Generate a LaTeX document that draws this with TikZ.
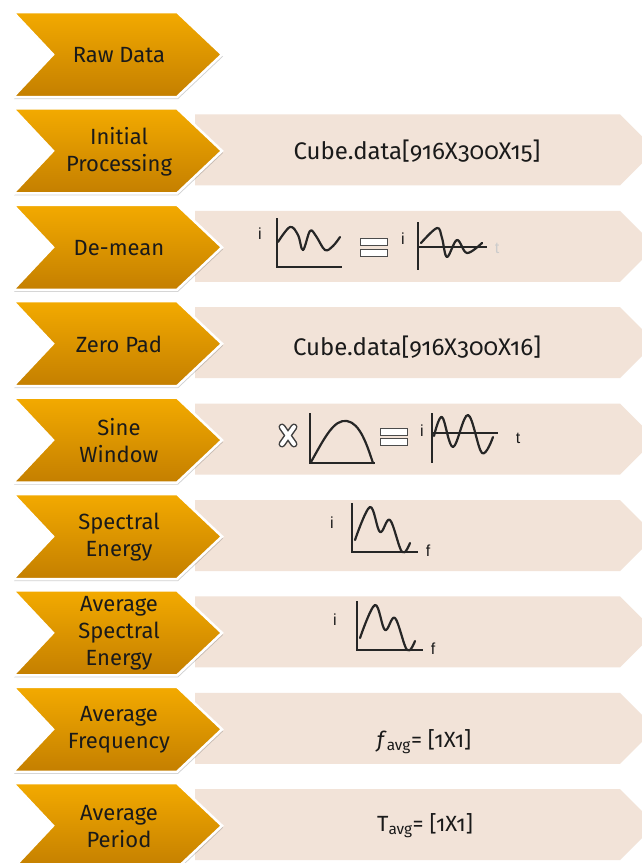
\documentclass[tikz,border=0pt]{standalone}
\usepackage{fontspec}
\setmainfont{Fira Sans}[Numbers=OldStyle]
\newfontfamily\arialf{Liberation Sans}
\definecolor{orTop}{HTML}{F3AA00}
\definecolor{orBot}{HTML}{C47F00}
\definecolor{bandc}{HTML}{F2E3D8}
\definecolor{txt}{HTML}{1A1A1A}
\tikzset{
  chev/.style={top color=orTop, bottom color=orBot, draw=white, line width=2.5pt, line join=miter},
  chevshadow/.style={fill=black, opacity=0.18},
  band/.style={fill=bandc},
  lbl/.style={font=\fontsize{22}{27}\selectfont, text=txt, align=center, inner sep=0pt},
  btxt/.style={font=\fontsize{22}{27}\selectfont, text=txt, inner sep=0pt},
  cubetxt/.style={font=\fontsize{24}{27}\selectfont, text=txt, inner sep=0pt},
  axlbl/.style={font=\arialf\fontsize{16}{18}\selectfont, text=txt, inner sep=0pt},
  curve/.style={line width=2.2pt, line cap=round, line join=round, draw=black!85},
  axis/.style={line width=2.2pt, draw=black!85},
  eqbar/.style={draw=black!70, fill=white, line width=1pt}
}
\begin{document}
\begin{tikzpicture}[x=1pt,y=-1pt]
\useasboundingbox (0,0) rectangle (642,863);
\clip (0,0) rectangle (642,863);
\fill[white] (0,0) rectangle (642,863);
% bands
\foreach \t in {108.4,204.8,301.2,397.6,494,590.4,686.8,783.2}{
  \fill[band] (195,{\t+6}) -- (620,{\t+6}) -- (655.5,{\t+41.5}) -- (620,{\t+77}) -- (195,{\t+77}) -- cycle;
}
% orange chevrons
\foreach \t in {12,108.4,204.8,301.2,397.6,494,590.4,686.8,783.2}{
  \fill[chevshadow] (14,{\t+2}) -- (178,{\t+2}) -- (223,{\t+44.5}) -- (178,{\t+87}) -- (14,{\t+87}) -- (54,{\t+44.5}) -- cycle;
  \filldraw[chev] (13,\t) -- (177,\t) -- (222,{\t+42.5}) -- (177,{\t+85}) -- (13,{\t+85}) -- (53,{\t+42.5}) -- cycle;
}
% chevron labels
\node[lbl] (l1) at (119,55) {Raw Data};
\node[lbl] (l2) at (119,151.4) {Initial\\Processing};
\node[lbl] (l3) at (119,247.8) {De-mean};
\node[lbl] (l4) at (119,344.2) {Zero Pad};
\node[lbl] (l5) at (119,440.6) {Sine\\Window};
\node[lbl] (l6) at (119,537) {Spectral\\Energy};
\node[lbl] (l7) at (119,633.4) {Average\\Spectral\\Energy};
\node[lbl] (l8) at (119,729.8) {Average\\Frequency};
\node[lbl] (l9) at (119,826.2) {Average\\Period};
% band texts
\node[cubetxt] (b2) at (417,151) {Cube.data[916X300X15]};
\node[cubetxt] (b4) at (417,347) {Cube.data[916X300X16]};
\node[btxt] (b8) at (424,742) {\textit{f}\textsubscript{avg}= [1X1]};
\node[btxt] (b9) at (425,826) {T\textsubscript{avg}= [1X1]};
% ---- De-mean row
\node[axlbl] (i3a) at (260,234) {i};
\draw[axis] (277,218) -- (277,267) -- (342,267);
\draw[curve] plot[smooth, tension=0.6] coordinates {(278,242) (290,227) (298,235) (303,250) (310,231) (316,236) (325,250) (333,246) (340,237)};
\draw[eqbar] (360,238) rectangle (387,245);
\draw[eqbar] (360,249) rectangle (387,256);
\node[axlbl] (i3b) at (403,239) {i};
\draw[axis] (418,222) -- (418,270);
\draw[axis] (418,247) -- (487,247);
\draw[curve] plot[smooth, tension=0.6] coordinates {(421,243) (437,228) (442,238) (447,257) (457,240) (467,253) (482,243)};
\node[axlbl, text=black!20] (t3) at (497,248) {t};
% ---- Sine window row
\draw[line width=7pt, draw=black!75, line cap=round] (282,427) -- (294,444) (294,427) -- (282,444);
\draw[line width=4pt, draw=white, line cap=round] (282,427) -- (294,444) (294,427) -- (282,444);
\draw[axis] (310,413) -- (310,463) -- (375,463);
\draw[curve] (311,462) .. controls (325,437) and (334,419) .. (347,421) .. controls (360,423) and (367,445) .. (373,463);
\draw[eqbar] (380,428) rectangle (407,435);
\draw[eqbar] (380,438) rectangle (407,445);
\node[axlbl] (i5) at (422,431) {i};
\draw[axis] (432,413) -- (432,463);
\draw[axis] (432,433) -- (498,433);
\draw[curve] plot[smooth, tension=0.6] coordinates {(434,436) (442,417) (453,447) (468,415) (482,453) (493,437)};
\node[axlbl] (t5) at (518,438) {t};
% ---- Spectral energy row
\node[axlbl] (i6) at (332,523) {i};
\draw[axis] (352,503) -- (352,552) -- (418,552);
\draw[curve] plot[smooth, tension=0.6] coordinates {(355,540) (370,507) (380,532) (390,520) (402,552) (410,543)};
\node[axlbl] (f6) at (428,551) {f};
% ---- Average spectral energy row
\node[axlbl] (i7) at (335,620) {i};
\draw[axis] (357,601) -- (357,650) -- (423,650);
\draw[curve] plot[smooth, tension=0.6] coordinates {(360,638) (375,605) (385,630) (395,618) (407,650) (415,641)};
\node[axlbl] (f7) at (433,649) {f};
\end{tikzpicture}
\end{document}
